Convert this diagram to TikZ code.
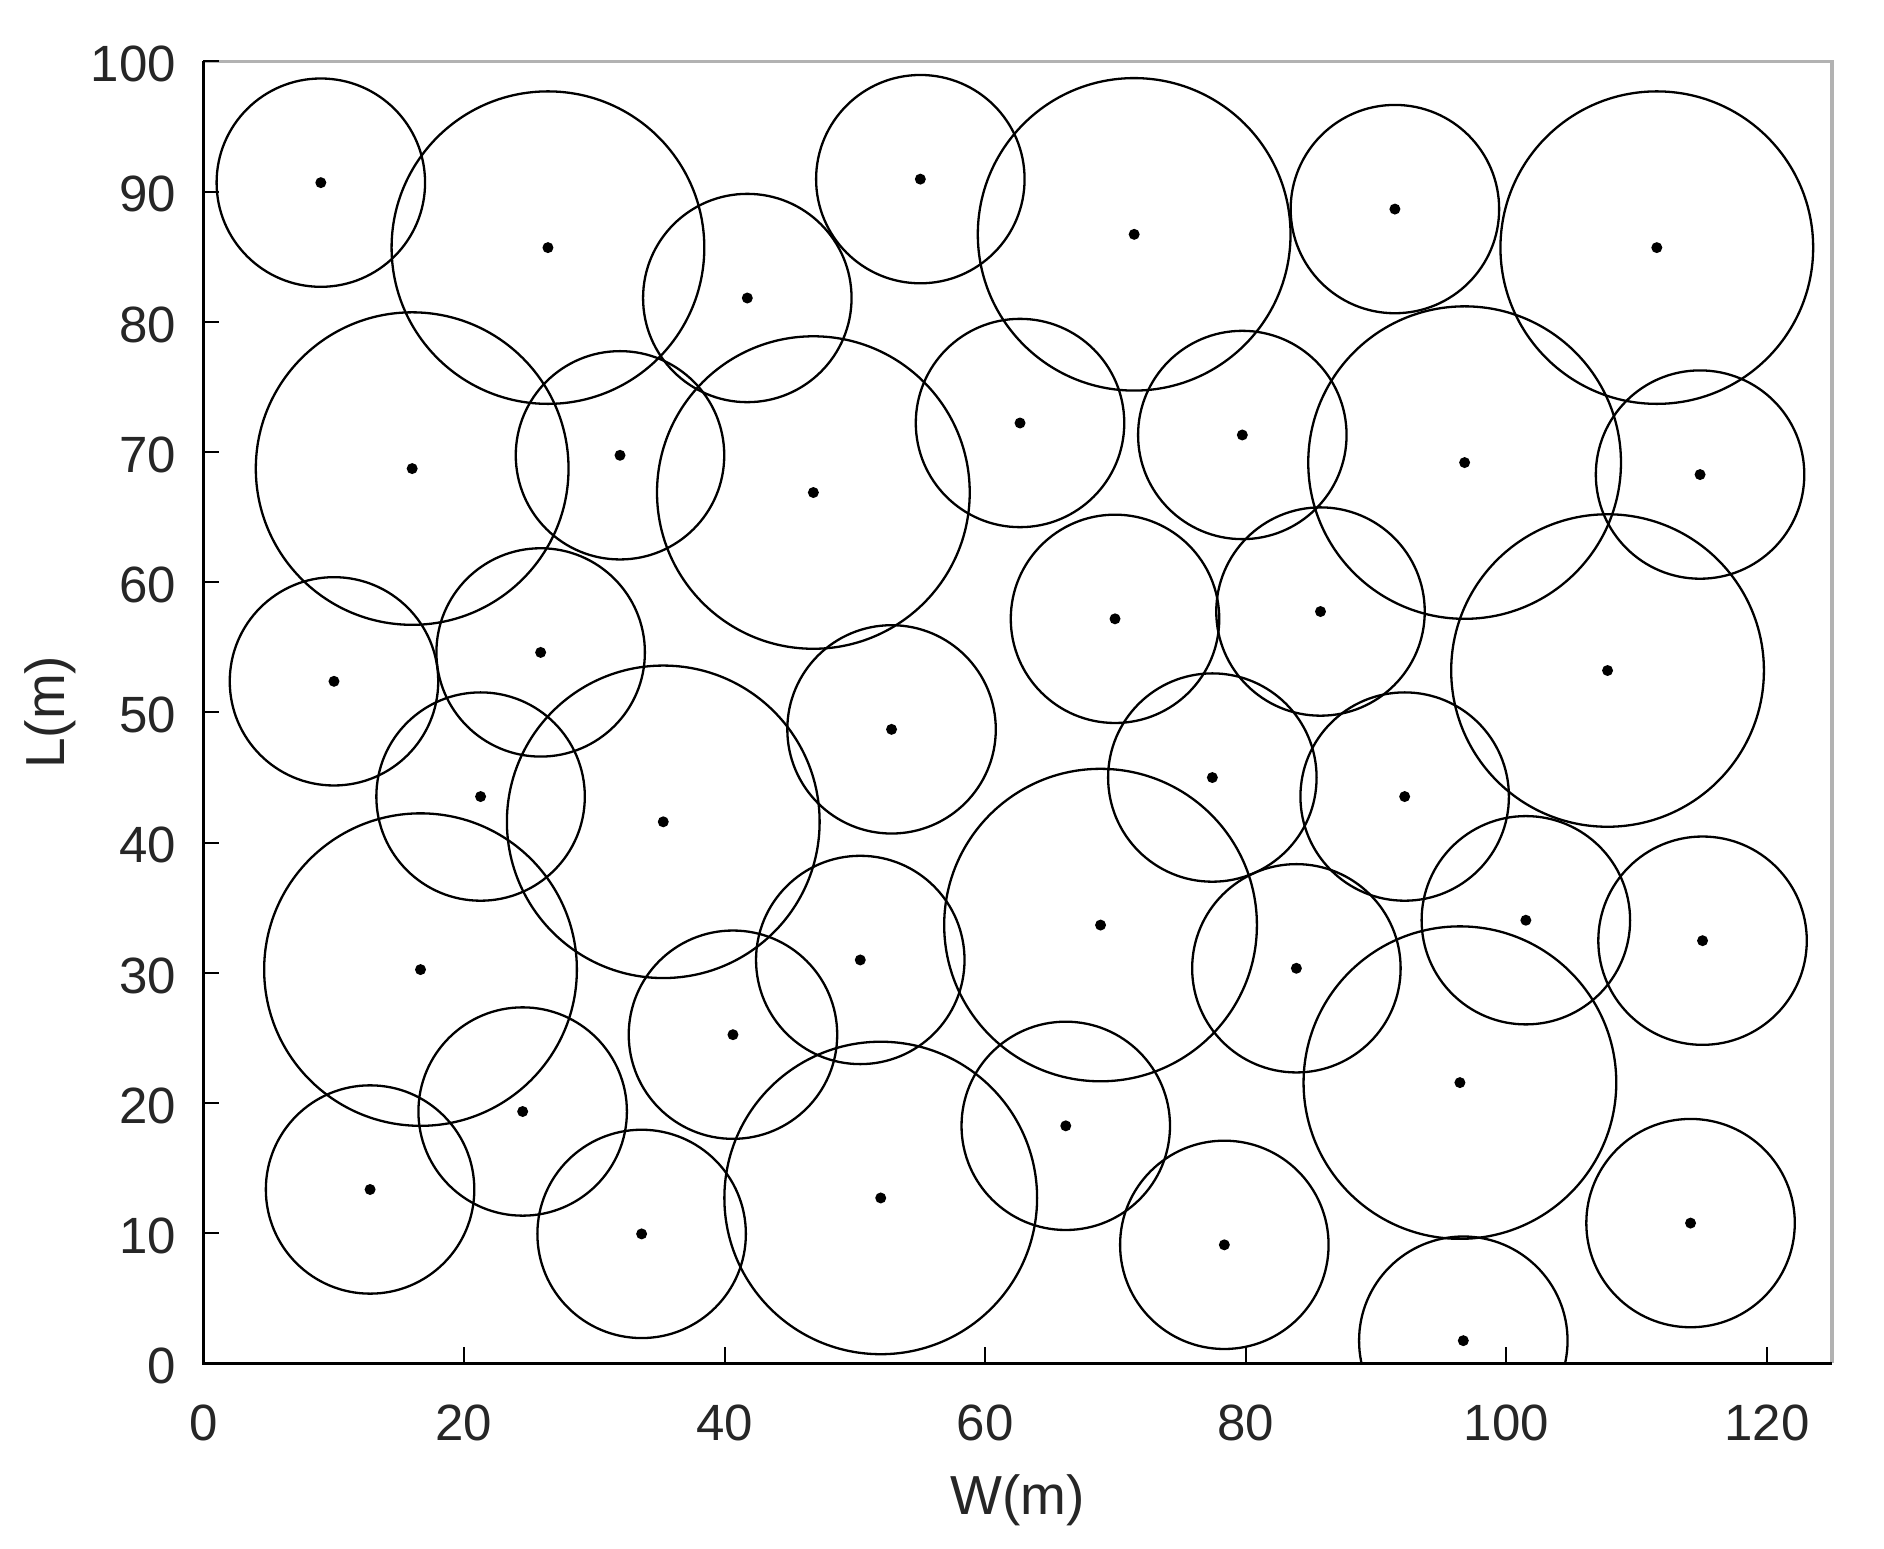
\documentclass[tikz,border=0pt]{standalone}
\usepackage{fontspec}
\setmainfont{Liberation Sans}
\begin{document}
\begin{tikzpicture}[x=1pt,y=1pt,
  ring/.style={draw=black,line width=2.3pt},
  seed/.style={fill=black},
  ticklab/.style={font=\fontsize{51}{51}\selectfont,text=black!85,inner sep=0pt},
  axlab/.style={font=\fontsize{55}{55}\selectfont,text=black!85,inner sep=0pt}]
\useasboundingbox (0,0) rectangle (1884,-1548);
\begin{scope}[shift={(203.3,-1363.3)},x=13.03pt,y=13.02pt]
 \begin{scope}
  \clip (0,0) rectangle (125,100);
  \foreach \cx/\cy/\r in {
   9.02/90.68/8, 26.45/85.69/12, 41.75/81.82/8, 55.03/90.95/8, 71.44/86.71/12,
   91.45/88.65/8, 111.55/85.69/12, 16.03/68.72/12, 31.98/69.74/8, 46.82/66.88/12,
   62.68/72.22/8, 79.74/71.30/8, 96.80/69.18/12, 114.87/68.26/8, 10.03/52.38/8,
   25.89/54.60/8, 69.97/57.18/8, 85.74/57.74/8, 107.77/53.21/12, 21.28/43.53/8,
   35.30/41.59/12, 52.82/48.69/8, 77.44/44.99/8, 92.20/43.53/8, 16.67/30.24/12,
   50.42/30.98/8, 68.86/33.66/12, 83.89/30.34/8, 101.50/34.03/8, 115.06/32.46/8,
   40.65/25.24/8, 24.51/19.34/8, 12.80/13.35/8, 33.64/9.94/8, 51.99/12.70/12,
   66.19/18.24/8, 78.36/9.10/8, 96.44/21.56/12, 114.14/10.77/8, 96.70/1.74/8} {
   \draw[ring] (\cx,\cy) circle[radius=\r];
   \fill[seed] (\cx,\cy) circle[radius=5.5pt];
  }
 \end{scope}
 % box
 \draw[gray!60,line width=3.5pt] (0,100) -- (125,100) -- (125,0);
 \draw[black,line width=2.4pt] (125,0) -- (0,0) -- (0,100);
 % ticks
 \foreach \t in {20,40,...,120} {
  \draw[black,line width=2pt] (\t,0) -- ++(0,16pt);
 }
 \foreach \t in {10,20,...,100} {
  \draw[black,line width=2pt] (0,\t) -- ++(16pt,0);
 }
 \foreach \t in {0,20,...,120} {
  \node[ticklab] (xl\t) at (\t,-4.59) {\t};
 }
 \foreach \t in {0,10,...,100} {
  \node[ticklab,anchor=east] (yl\t) at (-2.1,\t-0.22) {\t};
 }
 \node[axlab] (xlab) at (62.5,-10.5) {W(m)};
 \node[axlab,rotate=90] (ylab) at (-11.77,50) {L(m)};
\end{scope}
\end{tikzpicture}
\end{document}
